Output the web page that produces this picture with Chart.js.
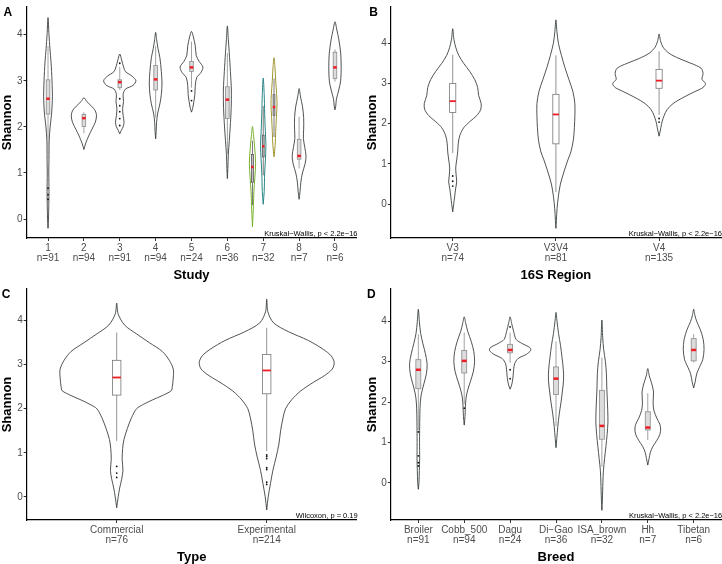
<!DOCTYPE html>
<html>
<head>
<meta charset="utf-8">
<script src="https://cdn.jsdelivr.net/npm/chart.js@4.4.0/dist/chart.umd.min.js"></script>
<style>
  html, body { margin: 0; padding: 0; background: #fff; }
  #wrap { position: relative; width: 722px; height: 564px; overflow: hidden; }
  canvas { position: absolute; }
</style>
</head>
<body>
<div id="wrap">
  <canvas id="panelA" width="361" height="282" style="left:0;top:0"></canvas>
  <canvas id="panelB" width="361" height="282" style="left:361px;top:0"></canvas>
  <canvas id="panelC" width="361" height="282" style="left:0;top:282px"></canvas>
  <canvas id="panelD" width="361" height="282" style="left:361px;top:282px"></canvas>
</div>
<script>
// ---- data ----
// violin profiles are [shannon, relative density] from bottom tip to top tip
// boxes are [lower whisker, q1, median, q3, upper whisker]

const yTicks = [0, 1, 2, 3, 4];

// A: Study
const studyLabels = ['1', '2', '3', '4', '5', '6', '7', '8', '9'];
const studyN = [91, 94, 91, 94, 24, 36, 32, 7, 6];
const studyPos = [1, 2, 3, 4, 5, 6, 6.7, 7, 7.3, 8, 9];
const studyViolins = [
  [[-0.2,0],[0,0.5],[0.3,0.8],[0.6,1.0],[1.0,0.8],[1.3,1.0],[1.7,1.2],[2.0,2.2],[2.3,3.8],[2.65,4.6],[3.0,4.2],[3.4,3.2],[3.7,2],[4.0,1],[4.37,0]],
  [[1.51,0],[1.65,2],[1.8,5],[1.95,8.5],[2.1,12],[2.24,13.3],[2.35,12],[2.45,8],[2.55,3],[2.63,0]],
  [[1.85,0],[1.92,1.5],[2.0,3.5],[2.1,4.5],[2.25,3.5],[2.4,3],[2.55,4],[2.7,3.5],[2.82,6],[2.9,14],[3.0,17],[3.1,13],[3.2,6],[3.3,4],[3.45,2],[3.58,0]],
  [[1.74,0],[1.9,0.6],[2.1,1],[2.3,2.2],[2.5,4.5],[2.7,6],[2.95,6.7],[3.2,6],[3.5,4.5],[3.7,2.5],[3.9,1],[4.05,0]],
  [[2.32,0],[2.4,1.2],[2.55,2.5],[2.7,3.5],[2.9,4],[3.07,5.5],[3.18,10],[3.3,12],[3.42,8],[3.55,5],[3.75,4],[3.95,2],[4.07,0]],
  [[0.88,0],[1.1,0.5],[1.4,1],[1.7,2],[2.0,3],[2.4,4],[2.8,4.2],[3.2,3.2],[3.6,2],[3.9,1],[4.19,0]],
  [[-0.17,0],[0.1,0.6],[0.3,1],[0.6,1.5],[0.9,2.5],[1.2,3.3],[1.5,2.5],[1.8,1.2],[2.01,0]],
  [[0.32,0],[0.6,1],[1.0,1.5],[1.3,2.3],[1.6,2.8],[2.0,2],[2.3,1.5],[2.7,1],[3.06,0]],
  [[1.35,0],[1.6,1.2],[1.9,1.8],[2.2,2.5],[2.5,3.2],[2.7,2.8],[3.0,1.8],[3.3,1],[3.5,0]],
  [[0.43,0],[0.6,1],[0.8,1.8],[1.0,3.5],[1.2,6.3],[1.37,7.3],[1.55,6],[1.75,4.5],[1.95,4.8],[2.2,4.8],[2.45,3.5],[2.65,1.5],[2.83,0]],
  [[2.37,0],[2.45,0.8],[2.6,1.5],[2.8,4],[3.0,6],[3.3,6.5],[3.6,6],[3.9,4],[4.1,2],[4.28,0]]
];
const studyBoxes = [
  [1.3, 2.28, 2.61, 3.02, 3.75],
  [1.86, 2.01, 2.19, 2.27, 2.32],
  [2.8, 2.85, 2.97, 3.02, 3.3],
  [2.2, 2.8, 3.03, 3.33, 3.75],
  [2.85, 3.2, 3.29, 3.42, 3.85],
  [1.4, 2.18, 2.59, 2.87, 3.6],
  [0.3, 0.8, 1.13, 1.4, 1.7],
  [0.95, 1.35, 1.58, 1.82, 2.45],
  [1.78, 2.25, 2.43, 2.7, 3.05],
  [1.1, 1.3, 1.37, 1.73, 2.22],
  [2.98, 3.05, 3.29, 3.62, 3.68]
];
const studyOutliers = [
  [0.67, 0.53, 0.43], [], [3.38, 2.61, 2.46, 2.33, 2.18, 2.03], [], [2.78, 2.57],
  [], [], [], [], [], []
];

// B: 16S Region
const regionLabels = ['V3', 'V3V4', 'V4'];
const regionN = [74, 81, 135];
const regionPos = [1, 2, 3];
const regionViolins = [
  [[-0.19,0],[0,1],[0.2,2],[0.4,3],[0.55,4],[0.7,3.5],[0.9,3],[1.1,4],[1.3,5],[1.5,5.5],[1.7,7],[1.9,11],[2.05,17],[2.2,24],[2.35,28],[2.5,28.5],[2.7,26],[2.9,25],[3.1,22],[3.3,17],[3.5,11],[3.7,6],[3.9,3],[4.1,1.2],[4.36,0]],
  [[-0.6,0],[-0.4,0.5],[-0.1,1.2],[0.2,2.5],[0.5,4.5],[0.8,8],[1.1,12],[1.3,15],[1.6,17.5],[1.9,18.5],[2.2,19],[2.5,19],[2.8,17],[3.1,13],[3.4,9],[3.7,5.5],[4.0,2.5],[4.3,1],[4.58,0]],
  [[1.69,0],[1.9,1.8],[2.05,3],[2.2,5],[2.35,8],[2.5,14],[2.65,24],[2.8,36],[2.9,44],[3.0,46.5],[3.1,43],[3.25,44],[3.38,42],[3.5,32],[3.62,20],[3.75,10],[3.9,4],[4.05,1.5],[4.23,0]]
];
const regionBoxes = [
  [1.27, 2.28, 2.56, 3.0, 3.71],
  [0.3, 1.5, 2.23, 2.73, 3.7],
  [2.22, 2.88, 3.07, 3.35, 3.8]
];
const regionOutliers = [[0.7, 0.57, 0.45], [], [2.13, 2.04]];

// C: Type
const typeLabels = ['Commercial', 'Experimental'];
const typeN = [76, 214];
const typePos = [1, 2];
const typeViolins = [
  [[-0.25,0],[0,1.5],[0.2,3],[0.4,5],[0.6,6.3],[0.85,5.5],[1.1,6],[1.3,7.3],[1.55,10.7],[1.8,15],[2.0,20],[2.1,27],[2.2,36],[2.3,46],[2.41,55],[2.5,56],[2.7,57],[2.9,57],[3.1,53],[3.3,46],[3.5,33],[3.7,20],[3.9,8],[4.15,1.5],[4.4,0]],
  [[-0.3,0],[0,1.5],[0.3,3.8],[0.6,6.2],[0.9,9.5],[1.2,12.3],[1.5,14],[1.8,16.5],[2.0,19],[2.2,25],[2.4,34],[2.6,47],[2.75,58],[2.9,66],[3.05,68],[3.2,65],[3.35,57],[3.55,42],[3.75,22],[3.95,7],[4.2,1.2],[4.49,0]]
];
const typeBoxes = [
  [1.27, 2.31, 2.71, 3.1, 3.73],
  [1.04, 2.34, 2.87, 3.23, 3.84]
];
const typeOutliers = [[0.69, 0.54, 0.44], [0.95, 0.92, 0.87, 0.66, 0.62, 0.33, 0.28]];

// D: Breed
const breedLabels = ['Broiler', 'Cobb_500', 'Dagu', 'Di\u2212Gao', 'ISA_brown', 'Hh', 'Tibetan'];
const breedN = [91, 94, 24, 36, 32, 7, 6];
const breedPos = [1, 2, 3, 4, 5, 6, 7];
const breedViolins = [
  [[-0.16,0],[0,0.6],[0.3,1],[0.6,1.3],[1.0,1.2],[1.3,1.3],[1.7,1.5],[2.0,2],[2.2,3],[2.45,5.5],[2.7,8],[2.95,8.7],[3.2,7],[3.45,4.5],[3.7,2.3],[4.0,1],[4.3,0]],
  [[1.43,0],[1.65,0.8],[1.9,1.2],[2.1,1.8],[2.3,3.5],[2.5,6],[2.75,9],[3.0,10.3],[3.25,9.5],[3.5,7],[3.75,3.5],[3.95,1.5],[4.11,0]],
  [[2.32,0],[2.4,1.2],[2.5,2.2],[2.65,3],[2.8,3.5],[2.95,4.5],[3.08,8],[3.18,16],[3.28,20.5],[3.35,19.5],[3.45,12],[3.55,6],[3.75,3.5],[3.95,1.5],[4.11,0]],
  [[0.87,0],[1.1,0.8],[1.4,1.8],[1.7,3.2],[2.0,5],[2.3,6.5],[2.55,7.5],[2.8,7.3],[3.1,6],[3.4,4.5],[3.7,2.5],[4.0,1],[4.22,0]],
  [[-0.68,0],[-0.4,0.5],[0,1],[0.3,1.5],[0.6,2.7],[0.9,4],[1.2,5.2],[1.5,6],[1.8,5.8],[2.1,5.3],[2.4,4.8],[2.7,4.5],[3.0,3.5],[3.3,1.8],[3.6,0.8],[4.03,0]],
  [[0.44,0],[0.6,1.3],[0.75,2.5],[0.9,5],[1.05,9],[1.2,12],[1.33,12.8],[1.45,12],[1.6,9],[1.8,6],[2.0,5.3],[2.25,5.7],[2.45,4],[2.65,1.5],[2.83,0]],
  [[2.35,0],[2.5,1.5],[2.7,3],[2.85,5.5],[3.05,9],[3.3,10.3],[3.55,9.5],[3.8,6.5],[4.0,3],[4.15,1.2],[4.3,0]]
];
const breedBoxes = [
  [1.3, 2.33, 2.8, 3.05, 3.68],
  [1.95, 2.72, 3.02, 3.28, 3.72],
  [2.97, 3.22, 3.29, 3.43, 3.72],
  [1.4, 2.19, 2.58, 2.87, 3.5],
  [0.4, 1.08, 1.41, 2.29, 3.1],
  [1.06, 1.31, 1.37, 1.76, 2.22],
  [2.98, 3.02, 3.29, 3.57, 3.68]
];
const breedOutliers = [[1.26, 0.67, 0.5, 0.42], [1.85], [3.86, 2.8, 2.58], [], [], [], []];

// ---- drawing ----
const FONT = "'Liberation Sans', Arial, Helvetica, sans-serif";
Chart.defaults.font.family = FONT;

// ggplot scale = "area": widest violin in a panel spans 0.9 of a category
function violinPoints(pos, profile, k) {
  const right = profile.map(p => ({ x: pos + p[1] * k, y: p[0] }));
  const left = profile.slice().reverse().map(p => ({ x: pos - p[1] * k, y: p[0] }));
  return right.concat(left.slice(1));
}

function overlay(cfg) {
  return {
    id: 'overlay' + cfg.letter,
    afterDatasetsDraw(chart) {
      const { ctx, scales: { x, y } } = chart;
      ctx.save();
      cfg.boxes.forEach((b, i) => {
        const pos = cfg.pos[i];
        const px = x.getPixelForValue(pos);
        const w = (cfg.boxWEach && cfg.boxWEach[i]) || cfg.boxW;
        const hw = x.getPixelForValue(pos + w) - px;
        const yLo = y.getPixelForValue(b[0]), yQ1 = y.getPixelForValue(b[1]);
        const yMed = y.getPixelForValue(b[2]), yQ3 = y.getPixelForValue(b[3]);
        const yHi = y.getPixelForValue(b[4]);
        const line = (cfg.boxLine && cfg.boxLine[i]) || cfg.boxStroke;
        ctx.strokeStyle = line;
        ctx.lineWidth = 0.8;
        ctx.beginPath();
        ctx.moveTo(px, yHi); ctx.lineTo(px, yQ3);
        ctx.moveTo(px, yQ1); ctx.lineTo(px, yLo);
        ctx.stroke();
        ctx.fillStyle = (cfg.boxFillEach && cfg.boxFillEach[i]) || cfg.boxFill;
        ctx.fillRect(px - hw, yQ3, hw * 2, yQ1 - yQ3);
        ctx.strokeRect(px - hw, yQ3, hw * 2, yQ1 - yQ3);
        // median
        ctx.strokeStyle = '#ee1c25';
        ctx.lineWidth = cfg.medW;
        ctx.beginPath();
        ctx.moveTo(px - Math.max(hw, 1.2), yMed); ctx.lineTo(px + Math.max(hw, 1.2), yMed);
        ctx.stroke();
        // outliers
        ctx.fillStyle = '#111';
        cfg.outliers[i].forEach(v => {
          ctx.beginPath();
          ctx.arc(px, y.getPixelForValue(v), 0.9, 0, Math.PI * 2);
          ctx.fill();
        });
      });
      ctx.restore();
    },
    afterDraw(chart) {
      const { ctx, chartArea } = chart;
      ctx.save();
      ctx.fillStyle = '#000';
      ctx.font = 'bold 12px ' + FONT;
      ctx.textAlign = 'left';
      ctx.textBaseline = 'alphabetic';
      ctx.fillText(cfg.letter, cfg.letterX, 16);
      ctx.font = '7.5px ' + FONT;
      ctx.textAlign = 'right';
      ctx.fillText(cfg.stat, chartArea.right + 1, chartArea.bottom - 2.5);
      ctx.restore();
    }
  };
}

function makePanel(cfg) {
  const maxD = Math.max(...cfg.violins.flat().map(p => p[1]));
  const k = 0.45 / maxD;
  const datasets = cfg.violins.map((prof, i) => ({
    data: violinPoints(cfg.pos[i], prof, k),
    showLine: true,
    fill: false,
    tension: 0.3,
    pointRadius: 0,
    borderWidth: (cfg.violinColors && cfg.violinColors[i]) ? 1 : 0.85,
    borderColor: (cfg.violinColors && cfg.violinColors[i]) || '#2f3535'
  }));
  new Chart(document.getElementById(cfg.id), {
    type: 'scatter',
    data: { datasets },
    options: {
      responsive: false,
      animation: false,
      events: [],
      layout: { autoPadding: false, padding: { left: 0, top: 6.3, right: cfg.padRight, bottom: 0 } },
      plugins: { legend: { display: false }, tooltip: { enabled: false } },
      scales: {
        x: {
          type: 'linear',
          min: 0.4,
          max: cfg.labels.length + 0.6,
          afterBuildTicks: s => { s.ticks = cfg.labels.map((c, i) => ({ value: i + 1 })); },
          afterFit: s => { s.height = 44; },
          ticks: {
            autoSkip: false, maxRotation: 0, minRotation: 0, padding: 2.3,
            color: '#4d4d4d',
            font: { size: 10, lineHeight: 1 },
            callback: v => [cfg.labels[v - 1], 'n=' + cfg.n[v - 1]]
          },
          grid: { drawOnChartArea: false, tickLength: 3, tickColor: '#333', tickWidth: 1 },
          border: { color: '#000', width: 1.2 },
          title: {
            display: true, text: cfg.xTitle, color: '#000',
            font: { size: 13, weight: 'bold', lineHeight: 1 },
            padding: { top: 0, bottom: 0 }
          }
        },
        y: {
          min: cfg.yMin,
          max: cfg.yMax,
          afterBuildTicks: s => { s.ticks = yTicks.map(v => ({ value: v })); },
          afterFit: s => { s.width = cfg.axisLeft; },
          ticks: { padding: 1, color: '#4d4d4d', font: { size: 10 } },
          grid: { drawOnChartArea: false, tickLength: 3, tickColor: '#333', tickWidth: 1 },
          border: { color: '#000', width: 1.2 },
          title: {
            display: true, text: 'Shannon', color: '#000',
            font: { size: 13, weight: 'bold', lineHeight: 1 },
            padding: { top: cfg.yTitlePad, bottom: 0 }
          }
        }
      }
    },
    plugins: [overlay(cfg)]
  });
}

makePanel({
  id: 'panelA', letter: 'A', letterX: 3.5, stat: 'Kruskal\u2212Wallis, p < 2.2e\u221216',
  labels: studyLabels, n: studyN, pos: studyPos, violins: studyViolins,
  boxes: studyBoxes, outliers: studyOutliers, xTitle: 'Study',
  violinColors: { 6: '#78b02c', 7: '#2a8585', 8: '#a0952e' },
  boxLine: { 6: '#555', 7: '#555', 8: '#555' },
  boxFillEach: { 6: '#c4c4c4', 7: '#c4c4c4', 8: '#c4c4c4' },
  boxWEach: { 6: 0.025, 7: 0.025, 8: 0.025 },
  boxW: 0.05, boxFill: '#dcdcdc', boxStroke: '#8a8a8a', medW: 2.5,
  yMin: -0.41, yMax: 4.6, axisLeft: 26.5, padRight: 4.5, yTitlePad: 0.7
});

makePanel({
  id: 'panelB', letter: 'B', letterX: 8.3, stat: 'Kruskal\u2212Wallis, p < 2.2e\u221216',
  labels: regionLabels, n: regionN, pos: regionPos, violins: regionViolins,
  boxes: regionBoxes, outliers: regionOutliers, xTitle: '16S Region',
  boxW: 0.03, boxFill: '#fff', boxStroke: '#777', medW: 1.8,
  yMin: -0.84, yMax: 4.9, axisLeft: 29.8, padRight: 1, yTitlePad: 4.8
});

makePanel({
  id: 'panelC', letter: 'C', letterX: 1.7, stat: 'Wilcoxon, p = 0.19',
  labels: typeLabels, n: typeN, pos: typePos, violins: typeViolins,
  boxes: typeBoxes, outliers: typeOutliers, xTitle: 'Type',
  boxW: 0.028, boxFill: '#fff', boxStroke: '#777', medW: 1.8,
  yMin: -0.527, yMax: 4.72, axisLeft: 26.7, padRight: 4.3, yTitlePad: 0.7
});

makePanel({
  id: 'panelD', letter: 'D', letterX: 6, stat: 'Kruskal\u2212Wallis, p < 2.2e\u221216',
  labels: breedLabels, n: breedN, pos: breedPos, violins: breedViolins,
  boxes: breedBoxes, outliers: breedOutliers, xTitle: 'Breed',
  boxW: 0.054, boxFill: '#dcdcdc', boxStroke: '#8a8a8a', medW: 2.5,
  yMin: -0.92, yMax: 4.8, axisLeft: 29.8, padRight: 0.8, yTitlePad: 4.8
});
</script>
</body>
</html>
